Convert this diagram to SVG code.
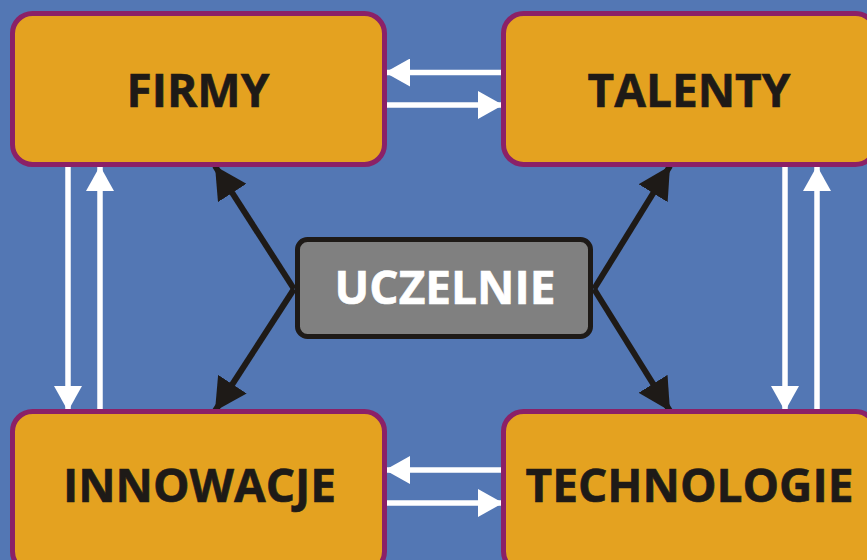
<svg xmlns="http://www.w3.org/2000/svg" width="867" height="560" viewBox="0 0 867 560">
<defs>
<style>
.box{fill:#E4A220;stroke:#8B2167;stroke-width:5}
.lbl{font-family:"Open Sans","DejaVu Sans",sans-serif;font-weight:bold;font-size:46px;fill:#1E1A17;text-anchor:middle;stroke:#1E1A17;stroke-width:0.6}
.w{stroke:#fff;stroke-width:5.5;fill:none;marker-end:url(#wh)}
.k{stroke:#1E1A17;stroke-width:6;fill:none;marker-end:url(#kh)}
</style>
<marker id="wh" markerUnits="userSpaceOnUse" markerWidth="26" markerHeight="28" refX="25" refY="14" orient="auto" viewBox="0 0 26 28">
<polygon points="0,0 25,14 0,28" fill="#fff"/>
</marker>
<marker id="kh" markerUnits="userSpaceOnUse" markerWidth="34" markerHeight="34" refX="32" refY="17" orient="auto" viewBox="0 0 34 34">
<polygon points="0,0 32,17 0,34" fill="#1E1A17"/>
</marker>
</defs>
<rect width="867" height="560" fill="#5377B4"/>
<g id="connectors">
<line class="w" x1="503" y1="72.5" x2="385" y2="72.5"/>
<line class="w" x1="385" y1="105" x2="503" y2="105"/>
<line class="w" x1="503" y1="470" x2="385" y2="470"/>
<line class="w" x1="385" y1="503" x2="503" y2="503"/>
<line class="w" x1="68" y1="166" x2="68" y2="411"/>
<line class="w" x1="100" y1="411" x2="100" y2="166"/>
<line class="w" x1="785" y1="166" x2="785" y2="411"/>
<line class="w" x1="817" y1="411" x2="817" y2="166"/>
<line class="k" x1="294" y1="289" x2="215" y2="166"/>
<line class="k" x1="294" y1="289" x2="215" y2="411"/>
<line class="k" x1="594" y1="289" x2="670" y2="166"/>
<line class="k" x1="594" y1="289" x2="670" y2="411"/>
</g>
<g id="firmy">
<rect class="box" x="12.5" y="13.5" width="372" height="151" rx="20"/>
<text class="lbl" x="198" y="107">FIRMY</text>
</g>
<g id="talenty">
<rect class="box" x="503.5" y="13.5" width="372" height="151" rx="20"/>
<text class="lbl" x="689" y="107">TALENTY</text>
</g>
<g id="innowacje">
<rect class="box" x="12.5" y="411.5" width="372" height="160" rx="20"/>
<text class="lbl" x="199.5" y="502">INNOWACJE</text>
</g>
<g id="technologie">
<rect class="box" x="503.5" y="411.5" width="372" height="160" rx="20"/>
<text class="lbl" x="689.5" y="502">TECHNOLOGIE</text>
</g>
<g id="uczelnie">
<rect x="297.5" y="239.5" width="293" height="97" rx="10" fill="#808080" stroke="#1E1A17" stroke-width="5"/>
<text class="lbl" x="445" y="304" style="fill:#fff;stroke:#fff">UCZELNIE</text>
</g>
</svg>
